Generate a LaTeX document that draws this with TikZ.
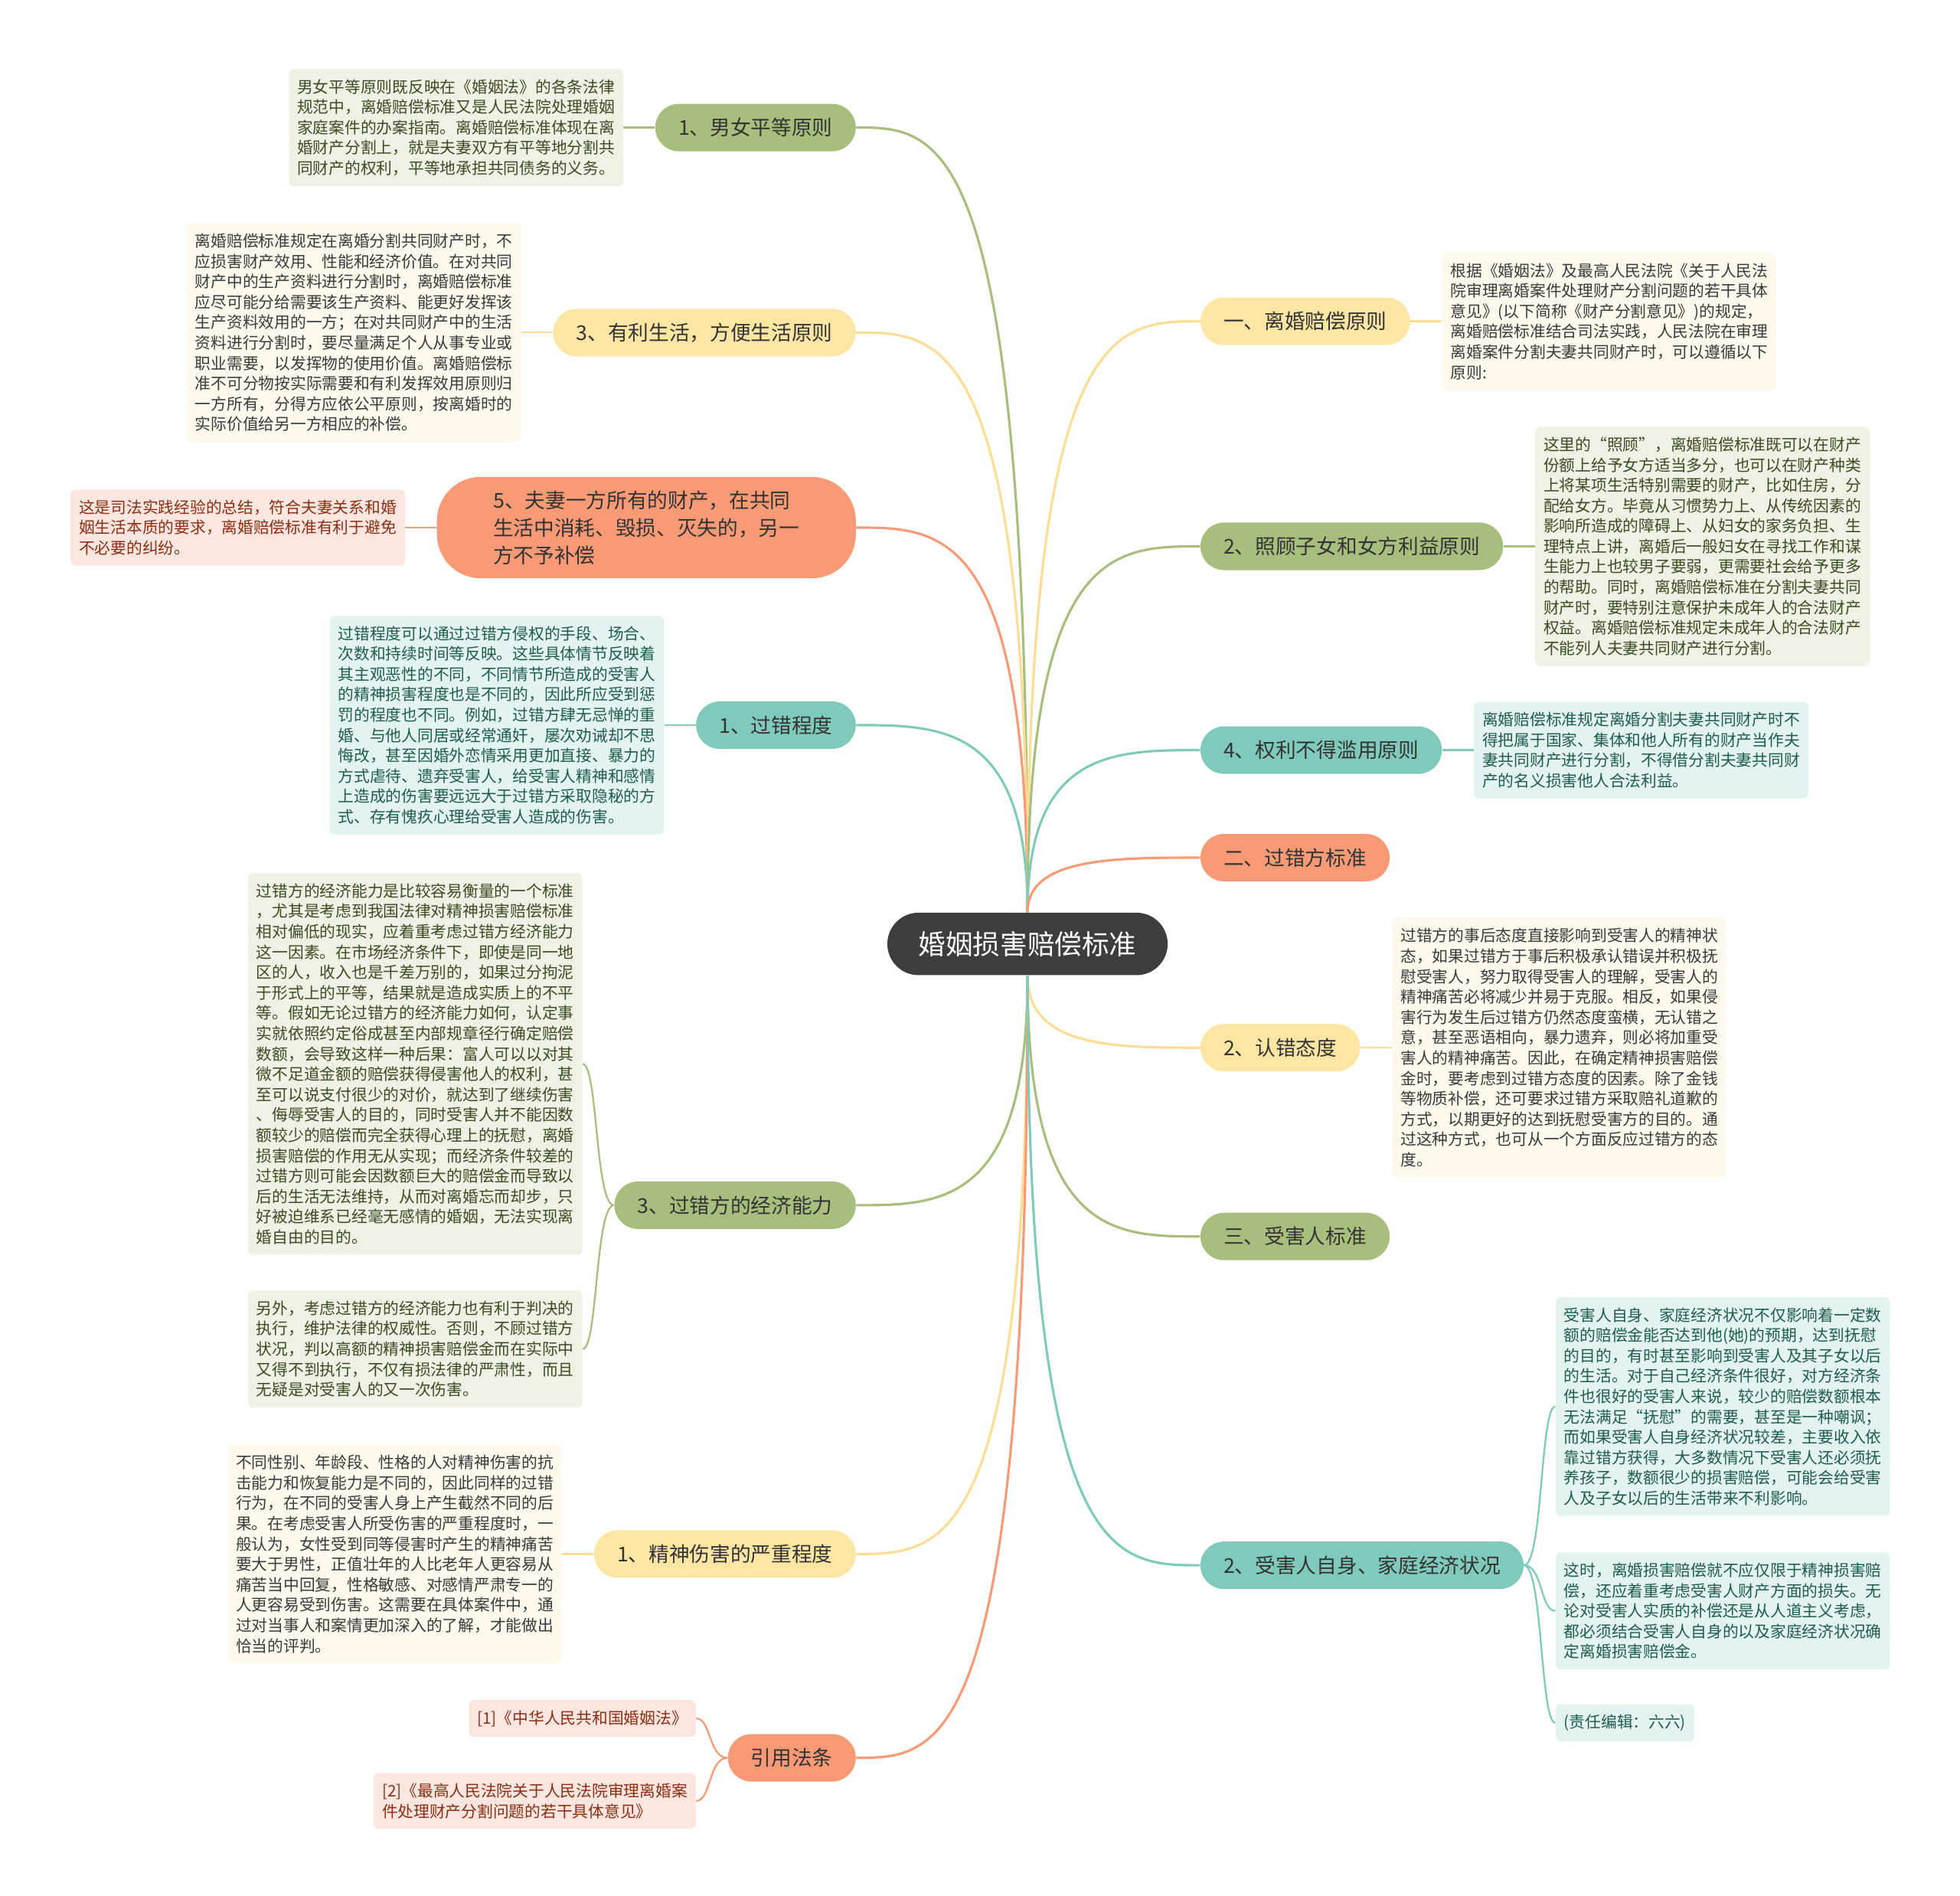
\documentclass[tikz,border=0pt]{standalone}
\usepackage{fontspec}
\newfontfamily\cjk{Noto Sans CJK SC}
\usetikzlibrary{positioning}

\definecolor{rootgray}{HTML}{3D3D3D}
\definecolor{mainG}{HTML}{A8BE7D}
\definecolor{mainY}{HTML}{FDE6A4}
\definecolor{mainT}{HTML}{7FCABB}
\definecolor{mainS}{HTML}{F99A77}
\definecolor{bgG}{HTML}{EEF1E4}
\definecolor{bgY}{HTML}{FDF9EC}
\definecolor{bgT}{HTML}{E3F3EF}
\definecolor{bgS}{HTML}{FDE6DF}
\definecolor{txG}{HTML}{3E4A24}
\definecolor{txY}{HTML}{3A3A3A}
\definecolor{txT}{HTML}{1F5C50}
\definecolor{txS}{HTML}{8B2E14}
\definecolor{txtopic}{HTML}{333333}

\newcommand{\mmroot}{\cjk\fontsize{12.4}{14}\selectfont}
\newcommand{\mmtopic}{\cjk\fontsize{9.3}{11}\selectfont}
\newcommand{\mmtopicbig}{\cjk\fontsize{9.3}{12.5}\selectfont}
\newcommand{\mmleaf}{\cjk\fontsize{7.23}{9.27}\selectfont}

\begin{document}
\begin{tikzpicture}[
  x=0.02cm, y=-0.02cm,
  node distance=0.5cm,
  root/.style={fill=rootgray, text=white, rounded corners=0.5cm, minimum height=1cm, inner xsep=0.5cm, inner ysep=0pt, font=\mmroot},
  topic/.style={rounded corners=0.38cm, minimum height=0.76cm, inner xsep=0.37cm, inner ysep=0pt, text=txtopic, font=\mmtopic},
  topicG/.style={topic, fill=mainG},
  topicY/.style={topic, fill=mainY},
  topicT/.style={topic, fill=mainT},
  topicS/.style={topic, fill=mainS},
  bigtopic/.style={fill=mainS, rounded corners=0.7cm, align=left, inner xsep=0.9cm, inner ysep=0.22cm, text=txtopic, font=\mmtopicbig},
  leaf/.style={rounded corners=0.08cm, align=left, inner xsep=3.8pt, inner ysep=4.7pt, font=\mmleaf},
  leafG/.style={leaf, fill=bgG, text=txG},
  leafY/.style={leaf, fill=bgY, text=txY},
  leafT/.style={leaf, fill=bgT, text=txT},
  leafS/.style={leaf, fill=bgS, text=txS},
  link/.style={line width=1.1pt},
  linkG/.style={link, draw=mainG},
  linkY/.style={link, draw=mainY!90!orange},
  linkT/.style={link, draw=mainT},
  linkS/.style={link, draw=mainS},
  twig/.style={line width=0.8pt},
  twigG/.style={twig, draw=mainG},
  twigY/.style={twig, draw=mainY!90!orange},
  twigT/.style={twig, draw=mainT},
  twigS/.style={twig, draw=mainS}
]
\useasboundingbox (0,0) rectangle (1568,1516);

% Root
\node[root] (root) at (822,755) {婚姻损害赔偿标准};

% Left topics
\node[topicG, anchor=east] (equality) at (685,102) {1、男女平等原则};
\node[topicY, anchor=east] (livelihood) at (685,266) {3、有利生活，方便生活原则};
\node[bigtopic, anchor=east] (own_property) at (685,422) {5、夫妻一方所有的财产，在共同\\生活中消耗、毁损、灭失的，另一\\方不予补偿};
\node[topicT, anchor=east] (fault_degree) at (685,580) {1、过错程度};
\node[topicG, anchor=east] (fault_wealth) at (685,964) {3、过错方的经济能力};
\node[topicY, anchor=east] (mental_harm) at (685,1243) {1、精神伤害的严重程度};
\node[topicS, anchor=east] (statutes) at (685,1406) {引用法条};

% Right topics
\node[topicY, anchor=west] (divorce_rules) at (960,257) {一、离婚赔偿原则};
\node[topicG, anchor=west] (care_women) at (960,437) {2、照顾子女和女方利益原则};
\node[topicT, anchor=west] (no_abuse) at (960,600) {4、权利不得滥用原则};
\node[topicS, anchor=west] (fault_std) at (960,686) {二、过错方标准};
\node[topicY, anchor=west] (attitude) at (960,838) {2、认错态度};
\node[topicG, anchor=west] (victim_std) at (960,989) {三、受害人标准};
\node[topicT, anchor=west] (victim_wealth) at (960,1252) {2、受害人自身、家庭经济状况};

% Left notes
\node[leafG, left=of equality] (equality_note) {男女平等原则既反映在《婚姻法》的各条法律\\
规范中，离婚赔偿标准又是人民法院处理婚姻\\
家庭案件的办案指南。离婚赔偿标准体现在离\\
婚财产分割上，就是夫妻双方有平等地分割共\\
同财产的权利，平等地承担共同债务的义务。};

\node[leafY, left=of livelihood] (livelihood_note) {离婚赔偿标准规定在离婚分割共同财产时，不\\
应损害财产效用、性能和经济价值。在对共同\\
财产中的生产资料进行分割时，离婚赔偿标准\\
应尽可能分给需要该生产资料、能更好发挥该\\
生产资料效用的一方；在对共同财产中的生活\\
资料进行分割时，要尽量满足个人从事专业或\\
职业需要，以发挥物的使用价值。离婚赔偿标\\
准不可分物按实际需要和有利发挥效用原则归\\
一方所有，分得方应依公平原则，按离婚时的\\
实际价值给另一方相应的补偿。};

\node[leafS, left=of own_property] (own_property_note) {这是司法实践经验的总结，符合夫妻关系和婚\\
姻生活本质的要求，离婚赔偿标准有利于避免\\
不必要的纠纷。};

\node[leafT, left=of fault_degree] (fault_degree_note) {过错程度可以通过过错方侵权的手段、场合、\\
次数和持续时间等反映。这些具体情节反映着\\
其主观恶性的不同，不同情节所造成的受害人\\
的精神损害程度也是不同的，因此所应受到惩\\
罚的程度也不同。例如，过错方肆无忌惮的重\\
婚、与他人同居或经常通奸，屡次劝诫却不思\\
悔改，甚至因婚外恋情采用更加直接、暴力的\\
方式虐待、遗弃受害人，给受害人精神和感情\\
上造成的伤害要远远大于过错方采取隐秘的方\\
式、存有愧疚心理给受害人造成的伤害。};

\node[leafG, left=of fault_wealth, yshift=2.26cm] (fault_wealth_note) {过错方的经济能力是比较容易衡量的一个标准\\
，尤其是考虑到我国法律对精神损害赔偿标准\\
相对偏低的现实，应着重考虑过错方经济能力\\
这一因素。在市场经济条件下，即使是同一地\\
区的人，收入也是千差万别的，如果过分拘泥\\
于形式上的平等，结果就是造成实质上的不平\\
等。假如无论过错方的经济能力如何，认定事\\
实就依照约定俗成甚至内部规章径行确定赔偿\\
数额，会导致这样一种后果：富人可以以对其\\
微不足道金额的赔偿获得侵害他人的权利，甚\\
至可以说支付很少的对价，就达到了继续伤害\\
、侮辱受害人的目的，同时受害人并不能因数\\
额较少的赔偿而完全获得心理上的抚慰，离婚\\
损害赔偿的作用无从实现；而经济条件较差的\\
过错方则可能会因数额巨大的赔偿金而导致以\\
后的生活无法维持，从而对离婚忘而却步，只\\
好被迫维系已经毫无感情的婚姻，无法实现离\\
婚自由的目的。};

\node[leafG, left=of fault_wealth, yshift=-2.3cm] (fault_wealth_more) {另外，考虑过错方的经济能力也有利于判决的\\
执行，维护法律的权威性。否则，不顾过错方\\
状况，判以高额的精神损害赔偿金而在实际中\\
又得不到执行，不仅有损法律的严肃性，而且\\
无疑是对受害人的又一次伤害。};

\node[leafY, left=of mental_harm] (mental_harm_note) {不同性别、年龄段、性格的人对精神伤害的抗\\
击能力和恢复能力是不同的，因此同样的过错\\
行为，在不同的受害人身上产生截然不同的后\\
果。在考虑受害人所受伤害的严重程度时，一\\
般认为，女性受到同等侵害时产生的精神痛苦\\
要大于男性，正值壮年的人比老年人更容易从\\
痛苦当中回复，性格敏感、对感情严肃专一的\\
人更容易受到伤害。这需要在具体案件中，通\\
过对当事人和案情更加深入的了解，才能做出\\
恰当的评判。};

\node[leafS, left=of statutes, yshift=0.63cm] (statute_one) {[1]《中华人民共和国婚姻法》};
\node[leafS, left=of statutes, yshift=-0.69cm] (statute_two) {[2]《最高人民法院关于人民法院审理离婚案\\
件处理财产分割问题的若干具体意见》};

% Right notes
\node[leafY, right=of divorce_rules] (divorce_rules_note) {根据《婚姻法》及最高人民法院《关于人民法\\
院审理离婚案件处理财产分割问题的若干具体\\
意见》(以下简称《财产分割意见》)的规定，\\
离婚赔偿标准结合司法实践，人民法院在审理\\
离婚案件分割夫妻共同财产时，可以遵循以下\\
原则:};

\node[leafG, right=of care_women] (care_women_note) {这里的“照顾”，离婚赔偿标准既可以在财产\\
份额上给予女方适当多分，也可以在财产种类\\
上将某项生活特别需要的财产，比如住房，分\\
配给女方。毕竟从习惯势力上、从传统因素的\\
影响所造成的障碍上、从妇女的家务负担、生\\
理特点上讲，离婚后一般妇女在寻找工作和谋\\
生能力上也较男子要弱，更需要社会给予更多\\
的帮助。同时，离婚赔偿标准在分割夫妻共同\\
财产时，要特别注意保护未成年人的合法财产\\
权益。离婚赔偿标准规定未成年人的合法财产\\
不能列人夫妻共同财产进行分割。};

\node[leafT, right=of no_abuse] (no_abuse_note) {离婚赔偿标准规定离婚分割夫妻共同财产时不\\
得把属于国家、集体和他人所有的财产当作夫\\
妻共同财产进行分割，不得借分割夫妻共同财\\
产的名义损害他人合法利益。};

\node[leafY, right=of attitude] (attitude_note) {过错方的事后态度直接影响到受害人的精神状\\
态，如果过错方于事后积极承认错误并积极抚\\
慰受害人，努力取得受害人的理解，受害人的\\
精神痛苦必将减少并易于克服。相反，如果侵\\
害行为发生后过错方仍然态度蛮横，无认错之\\
意，甚至恶语相向，暴力遗弃，则必将加重受\\
害人的精神痛苦。因此，在确定精神损害赔偿\\
金时，要考虑到过错方态度的因素。除了金钱\\
等物质补偿，还可要求过错方采取赔礼道歉的\\
方式，以期更好的达到抚慰受害方的目的。通\\
过这种方式，也可从一个方面反应过错方的态\\
度。};

\node[leafT, right=of victim_wealth, yshift=2.54cm] (victim_wealth_note) {受害人自身、家庭经济状况不仅影响着一定数\\
额的赔偿金能否达到他(她)的预期，达到抚慰\\
的目的，有时甚至影响到受害人及其子女以后\\
的生活。对于自己经济条件很好，对方经济条\\
件也很好的受害人来说，较少的赔偿数额根本\\
无法满足“抚慰”的需要，甚至是一种嘲讽；\\
而如果受害人自身经济状况较差，主要收入依\\
靠过错方获得，大多数情况下受害人还必须抚\\
养孩子，数额很少的损害赔偿，可能会给受害\\
人及子女以后的生活带来不利影响。};

\node[leafT, right=of victim_wealth, yshift=-0.73cm] (victim_wealth_more) {这时，离婚损害赔偿就不应仅限于精神损害赔\\
偿，还应着重考虑受害人财产方面的损失。无\\
论对受害人实质的补偿还是从人道主义考虑，\\
都必须结合受害人自身的以及家庭经济状况确\\
定离婚损害赔偿金。};

\node[leafT, right=of victim_wealth, yshift=-2.52cm] (editor) {(责任编辑：六六)};

% Branches from the root
\draw[linkG] (root.north) .. controls (822,102) and (753,102) .. (equality.east);
\draw[linkY] (root.north) .. controls (822,266) and (753,266) .. (livelihood.east);
\draw[linkS] (root.north) .. controls (822,422) and (753,422) .. (own_property.east);
\draw[linkT] (root.north) .. controls (822,580) and (753,580) .. (fault_degree.east);
\draw[linkY] (root.north) .. controls (822,257) and (891,257) .. (divorce_rules.west);
\draw[linkG] (root.north) .. controls (822,437) and (891,437) .. (care_women.west);
\draw[linkT] (root.north) .. controls (822,600) and (891,600) .. (no_abuse.west);
\draw[linkS] (root.north) .. controls (822,686) and (891,686) .. (fault_std.west);
\draw[linkG] (root.south) .. controls (822,964) and (753,964) .. (fault_wealth.east);
\draw[linkY] (root.south) .. controls (822,1243) and (753,1243) .. (mental_harm.east);
\draw[linkS] (root.south) .. controls (822,1406) and (753,1406) .. (statutes.east);
\draw[linkY] (root.south) .. controls (822,838) and (891,838) .. (attitude.west);
\draw[linkG] (root.south) .. controls (822,989) and (891,989) .. (victim_std.west);
\draw[linkT] (root.south) .. controls (822,1252) and (891,1252) .. (victim_wealth.west);

% Notes
\draw[twigG] (equality.west) -- (equality_note.east);
\draw[twigY] (livelihood.west) -- (livelihood_note.east);
\draw[twigS] (own_property.west) -- (own_property_note.east);
\draw[twigT] (fault_degree.west) -- (fault_degree_note.east);
\draw[twigY] (mental_harm.west) -- (mental_harm_note.east);
\draw[twigY] (divorce_rules.east) -- (divorce_rules_note.west);
\draw[twigG] (care_women.east) -- (care_women_note.west);
\draw[twigT] (no_abuse.east) -- (no_abuse_note.west);
\draw[twigY] (attitude.east) -- (attitude_note.west);
\draw[twigG] (fault_wealth.west) .. controls +(-15,0) and +(12,0) .. (fault_wealth_note.east);
\draw[twigG] (fault_wealth.west) .. controls +(-15,0) and +(12,0) .. (fault_wealth_more.east);
\draw[twigS] (statutes.west) .. controls +(-15,0) and +(12,0) .. (statute_one.east);
\draw[twigS] (statutes.west) .. controls +(-15,0) and +(12,0) .. (statute_two.east);
\draw[twigT] (victim_wealth.east) .. controls +(15,0) and +(-12,0) .. (victim_wealth_note.west);
\draw[twigT] (victim_wealth.east) .. controls +(15,0) and +(-12,0) .. (victim_wealth_more.west);
\draw[twigT] (victim_wealth.east) .. controls +(15,0) and +(-12,0) .. (editor.west);

\end{tikzpicture}
\end{document}
